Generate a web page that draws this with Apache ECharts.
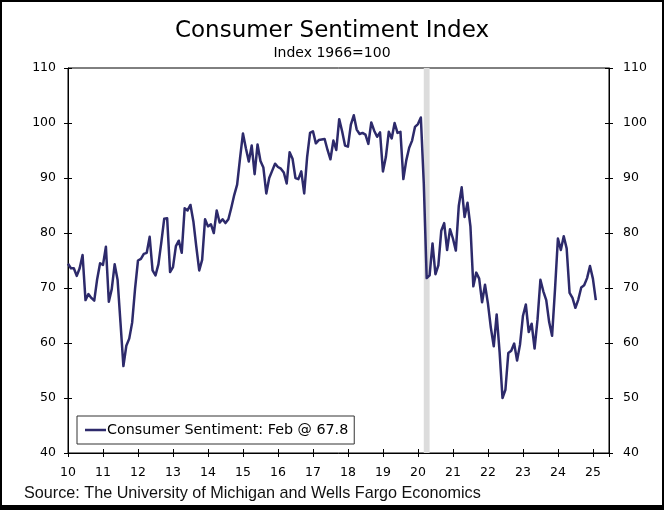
<!DOCTYPE html>
<html>
<head>
<meta charset="utf-8">
<script src="https://cdn.jsdelivr.net/npm/echarts@6/dist/echarts.min.js"></script>
<style>
  html, body { margin: 0; padding: 0; background: #fff; }
  #chart { position: absolute; left: 0; top: 0; width: 664px; height: 510px; }
  #frame { position: absolute; left: 0; top: 0; width: 664px; height: 510px; box-sizing: border-box;
           border: 2px solid #000; border-bottom-width: 5px; pointer-events: none; }
</style>
</head>
<body>
<div id="chart"></div>
<div id="frame"></div>
<script>
// ---- Data (monthly, University of Michigan Consumer Sentiment) ----
const startYear = 10;        // 2010, axis shows two-digit year
const values2010 = [74.4, 73.6, 73.6, 72.2, 73.6, 76.0, 67.8, 68.9, 68.2, 67.7, 71.6, 74.5];
const values2011 = [74.2, 77.5, 67.5, 69.8, 74.3, 71.5, 63.7, 55.8, 59.5, 60.8, 63.7, 69.9];
const values2012 = [75.0, 75.3, 76.2, 76.4, 79.3, 73.2, 72.3, 74.3, 78.3, 82.6, 82.7, 72.9];
const values2013 = [73.8, 77.6, 78.6, 76.4, 84.5, 84.1, 85.1, 82.1, 77.5, 73.2, 75.1, 82.5];
const values2014 = [81.2, 81.6, 80.0, 84.1, 81.9, 82.5, 81.8, 82.5, 84.6, 86.9, 88.8, 93.6];
const values2015 = [98.1, 95.4, 93.0, 95.9, 90.7, 96.1, 93.1, 91.9, 87.2, 90.0, 91.3, 92.6];
const values2016 = [92.0, 91.7, 91.0, 89.0, 94.7, 93.5, 90.0, 89.8, 91.2, 87.2, 93.8, 98.2];
const values2017 = [98.5, 96.3, 96.9, 97.0, 97.1, 95.1, 93.4, 96.8, 95.1, 100.7, 98.5, 95.9];
const values2018 = [95.7, 99.7, 101.4, 98.8, 98.0, 98.2, 97.9, 96.2, 100.1, 98.6, 97.5, 98.3];
const values2019 = [91.2, 93.8, 98.4, 97.2, 100.0, 98.2, 98.4, 89.8, 93.2, 95.5, 96.8, 99.3];
const values2020 = [99.8, 101.0, 89.1, 71.8, 72.3, 78.1, 72.5, 74.1, 80.4, 81.8, 76.9, 80.7];
const values2021 = [79.0, 76.8, 84.9, 88.3, 82.9, 85.5, 81.2, 70.3, 72.8, 71.7, 67.4, 70.6];
const values2022 = [67.2, 62.8, 59.4, 65.2, 58.4, 50.0, 51.5, 58.2, 58.6, 59.9, 56.8, 59.7];
const values2023 = [64.9, 67.0, 62.0, 63.5, 59.0, 64.2, 71.5, 69.4, 67.8, 63.8, 61.3, 69.7];
const values2024 = [79.0, 76.9, 79.4, 77.2, 69.1, 68.2, 66.4, 67.9, 70.1, 70.5, 71.8, 74.0];
const values2025 = [71.7, 67.8];

const seriesName = 'Consumer Sentiment: Feb @ 67.8';
// Recession shading: peak month (Feb 2020) to trough month (Apr 2020), drawn from month ends
const recessionPeak = { year: 20, month: 2 };
const recessionTrough = { year: 20, month: 4 };

const yTicks = [40, 50, 60, 70, 80, 90, 100, 110];
const xTickYears = [10, 11, 12, 13, 14, 15, 16, 17, 18, 19, 20, 21, 22, 23, 24, 25];
const xMax = 25.46;

// ---- Build ----
const allValues = [].concat(values2010, values2011, values2012, values2013, values2014, values2015,
  values2016, values2017, values2018, values2019, values2020, values2021, values2022, values2023,
  values2024, values2025);
const lineData = allValues.map((v, i) => [startYear + i / 12, v]);
const recStart = recessionPeak.year + recessionPeak.month / 12;
const recEnd = recessionTrough.year + recessionTrough.month / 12;

const FONT = 'DejaVu Sans';
const black = '#000';
const lineColor = '#2d2a6b';
const xBase = {
  type: 'value', min: xTickYears[0], max: xMax, interval: 1, position: 'bottom',
  splitLine: { show: false }
};
const yBase = {
  type: 'value', min: yTicks[0], max: yTicks[yTicks.length - 1], interval: 10,
  splitLine: { show: false }
};

const chart = echarts.init(document.getElementById('chart'), null, { renderer: 'canvas' });
chart.setOption({
  animation: false,
  backgroundColor: '#fff',
  title: {
    text: 'Consumer Sentiment Index',
    subtext: 'Index 1966=100',
    left: 'center', top: 15, itemGap: 3,
    textStyle: { fontFamily: FONT, fontSize: 23, fontWeight: 'normal', color: black },
    subtextStyle: { fontFamily: FONT, fontSize: 14, color: black }
  },
  grid: { left: 68, right: 55, top: 68, bottom: 57, show: true, borderColor: black, borderWidth: 1 },
  legend: {
    left: 77, top: 416, data: [{ name: seriesName, icon: 'rect' }],
    borderColor: '#333', borderWidth: 1, padding: [7, 6, 7, 8],
    itemWidth: 21, itemHeight: 2.5, itemGap: 0,
    itemStyle: { color: lineColor },
    textStyle: { fontFamily: FONT, fontSize: 14.3, color: black, padding: [0, 0, 0, -4] }
  },
  xAxis: [
    Object.assign({}, xBase, {
      axisLine: { show: true, lineStyle: { color: black, width: 1 } },
      axisTick: { show: true, inside: false, length: 4, lineStyle: { color: black } },
      axisLabel: {
        color: black, fontFamily: FONT, fontSize: 12.5, margin: 13,
        formatter: v => (Math.abs(v - Math.round(v)) < 1e-6 && xTickYears.includes(Math.round(v))) ? String(Math.round(v)) : ''
      }
    }),
    Object.assign({}, xBase, {
      axisLine: { show: false },
      axisTick: { show: true, inside: true, length: 4, lineStyle: { color: black } },
      axisLabel: { show: false }
    })
  ],
  yAxis: [
    Object.assign({}, yBase, {
      position: 'left',
      axisLine: { show: true, lineStyle: { color: black } },
      axisTick: { show: true, inside: false, length: 4, lineStyle: { color: black } },
      axisLabel: { color: black, fontFamily: FONT, fontSize: 12.5, margin: 12 }
    }),
    Object.assign({}, yBase, {
      position: 'right',
      axisLine: { show: true, lineStyle: { color: black } },
      axisTick: { show: true, inside: false, length: 4, lineStyle: { color: black } },
      axisLabel: { color: black, fontFamily: FONT, fontSize: 12.5, margin: 14 }
    }),
    Object.assign({}, yBase, {
      position: 'left',
      axisLine: { show: false },
      axisTick: { show: true, inside: true, length: 4, lineStyle: { color: black } },
      axisLabel: { show: false }
    }),
    Object.assign({}, yBase, {
      position: 'right',
      axisLine: { show: false },
      axisTick: { show: true, inside: true, length: 4, lineStyle: { color: black } },
      axisLabel: { show: false }
    })
  ],
  series: [{
    name: seriesName,
    type: 'line',
    xAxisIndex: 0, yAxisIndex: 0,
    data: lineData,
    symbol: 'none', showSymbol: false,
    lineStyle: { color: lineColor, width: 2.5, join: 'round' },
    itemStyle: { color: lineColor },
    z: 5,
    markArea: {
      silent: true,
      itemStyle: { color: '#dcdcdc' },
      data: [[{ xAxis: recStart }, { xAxis: recEnd }]]
    }
  }],
  graphic: [{
    type: 'text', left: 24, top: 486,
    style: {
      text: 'Source: The University of Michigan and Wells Fargo Economics',
      font: '16.2px "Liberation Sans", Arial, sans-serif', fill: '#111'
    }
  }]
});
</script>
</body>
</html>
